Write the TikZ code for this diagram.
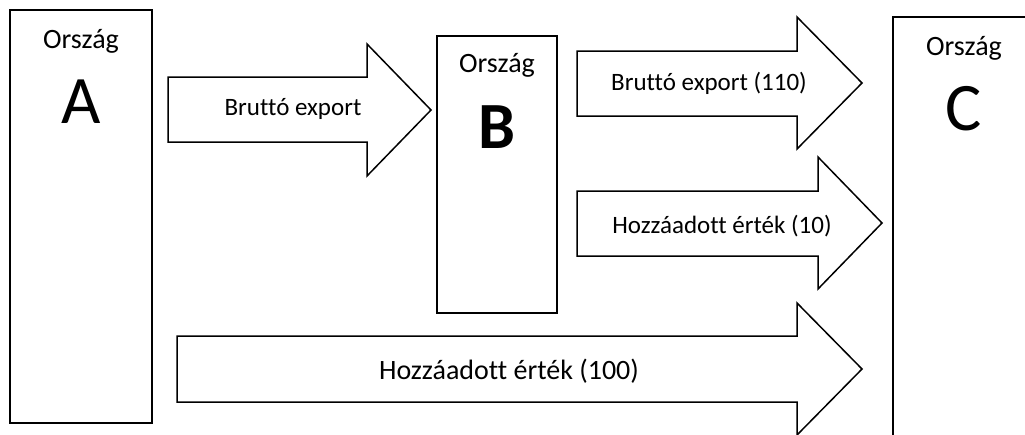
\documentclass[tikz,border=0pt]{standalone}
\usepackage{fontspec}
\setmainfont{Carlito}[Ligatures=NoCommon]
\usepackage{tikz}

\tikzset{
  box/.style={draw, line width=1.5pt},
  blockarrow/.style={draw, line width=1.5pt, line join=miter},
  label/.style={anchor=base, inner sep=0pt, font=\fontsize{25}{30}\selectfont},
  countrylabel/.style={label, font=\fontsize{28}{32}\selectfont},
  bigletter/.style={anchor=base, inner sep=0pt, font=\fontsize{68}{78}\selectfont}
}

\begin{document}
\begin{tikzpicture}[x=1pt, y=-1pt]
            \useasboundingbox (0,0) rectangle (1025,434);
            \clip (0,0) rectangle (1025,434);

            % Orszag A
            \draw[box] (10,10) rectangle (152,423);
            \node[countrylabel] (orszagA) at (81,48) {Ország};
            \node[bigletter] (betuA) at (81,123) {A};

            % Orszag B
            \draw[box] (437,36) rectangle (557,313);
            \node[countrylabel] (orszagB) at (497,72) {Ország};
            \node[bigletter, font=\fontsize{66}{76}\selectfont\bfseries] (betuB) at (497,148) {B};

            % Orszag C
            \draw[box] (893,17) rectangle (1035,445);
            \node[countrylabel] (orszagC) at (964,55) {Ország};
            \node[bigletter] (betuC) at (964,130) {C};

            % Nyilak
            \draw[blockarrow] (168,77) -- (367,77) -- (367,44) -- (431,110) -- (367,176) -- (367,142) -- (168,142) -- cycle;
            \node[label] (exportAB) at (293,115) {Bruttó export};

            \draw[blockarrow] (577,51) -- (797,51) -- (797,17) -- (862,83) -- (797,149) -- (797,116) -- (577,116) -- cycle;
            \node[label] (exportBC) at (709,90) {Bruttó export (110)};

            \draw[blockarrow] (577,191) -- (818,191) -- (818,157) -- (882,223) -- (818,289) -- (818,256) -- (577,256) -- cycle;
            \node[label] (ertekB) at (722,233) {Hozzáadott érték (10)};

            \draw[blockarrow] (177,336) -- (797,336) -- (797,303) -- (862,369) -- (797,435) -- (797,402) -- (177,402) -- cycle;
            \node[countrylabel] (ertekA) at (509,379) {Hozzáadott érték (100)};
        \end{tikzpicture}
\end{document}
